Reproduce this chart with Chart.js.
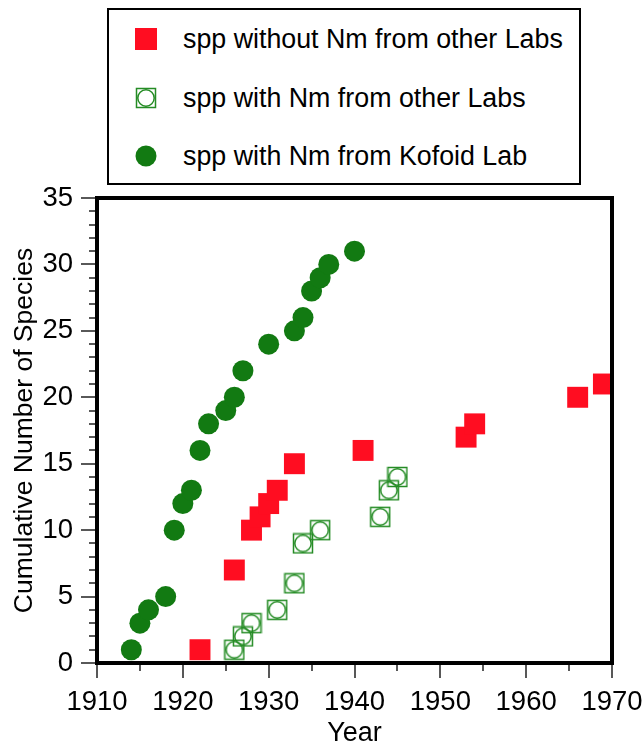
<!DOCTYPE html>
<html>
<head>
<meta charset="utf-8">
<script src="https://cdn.jsdelivr.net/npm/chart.js@4"></script>
<style>
  html, body { margin: 0; padding: 0; background: #fff; }
  #wrap { position: relative; width: 643px; height: 747px; }
  #chart { position: absolute; left: 0; top: 0; }
  #legend {
    position: absolute; left: 107px; top: 8px; width: 470px; height: 173px;
    border: 2px solid #000; background: #fff;
    font-family: "Liberation Sans", Arial, sans-serif; font-size: 26.8px; color: #000;
  }
  .item { position: absolute; left: 0; height: 30px; line-height: 30px; white-space: nowrap; }
  .item canvas { position: absolute; left: 26px; top: 4px; }
  .item span { position: absolute; left: 74px; top: 0; }
</style>
</head>
<body>
<div id="wrap">
  <canvas id="chart" width="643" height="747"></canvas>
  <div id="legend"></div>
</div>
<script>
// --- data ---
const noNmYears = [1922, 1926, 1928, 1929, 1930, 1931, 1933, 1941, 1953, 1954, 1966, 1969]
const noNmCounts = [1, 7, 10, 11, 12, 13, 15, 16, 17, 18, 20, 21]

const otherNmYears = [1926, 1927, 1928, 1931, 1933, 1934, 1936, 1943, 1944, 1945]
const otherNmCounts = [1, 2, 3, 4, 6, 9, 10, 11, 13, 14]

const kofoidYears = [1914, 1915, 1916, 1918, 1919, 1920, 1921, 1922, 1923, 1925, 1926, 1927, 1930, 1933, 1934, 1935, 1936, 1937, 1940]
const kofoidCounts = [1, 3, 4, 5, 10, 12, 13, 16, 18, 19, 20, 22, 24, 25, 26, 28, 29, 30, 31]

const seriesLabels = ['spp without Nm from other Labs', 'spp with Nm from other Labs', 'spp with Nm from Kofoid Lab']
const xTitle = 'Year'
const yTitle = 'Cumulative Number of Species'

const red = '#ff0d21'
const green = '#127a12'
const openGreen = '#258c25'
const fontFamily = '"Liberation Sans", Arial, sans-serif'

const toPoints = (xs, ys) => xs.map((x, i) => ({ x, y: ys[i] }))

// square outline with a circle inside, used for the "with Nm from other Labs" marker
function openMarker() {
  const c = document.createElement('canvas')
  c.width = 22; c.height = 22
  const g = c.getContext('2d')
  g.strokeStyle = openGreen
  g.lineWidth = 1.5
  g.strokeRect(1.5, 1.5, 19, 19)
  g.beginPath()
  g.arc(11, 11, 8.2, 0, Math.PI * 2)
  g.stroke()
  return c
}
const openStyle = openMarker()

// --- legend (html box at the top) ---
function drawLegendIcon(cv, kind) {
  const g = cv.getContext('2d')
  if (kind === 0) { g.fillStyle = red; g.fillRect(0, 0, 22, 22) }
  else if (kind === 1) { g.drawImage(openMarker(), 0, 0) }
  else { g.fillStyle = green; g.beginPath(); g.arc(11, 11, 10.5, 0, Math.PI * 2); g.fill() }
}
const legendEl = document.getElementById('legend')
const rowCenters = [29, 88, 146]
seriesLabels.forEach((txt, i) => {
  const row = document.createElement('div')
  row.className = 'item'
  row.style.top = (rowCenters[i] - 15) + 'px'
  const cv = document.createElement('canvas')
  cv.width = 22; cv.height = 22
  drawLegendIcon(cv, i)
  const sp = document.createElement('span')
  sp.textContent = txt
  row.appendChild(cv); row.appendChild(sp)
  legendEl.appendChild(row)
})

// frame + major/minor tick marks
const frameTicks = {
  id: 'frameTicks',
  afterDraw(chart) {
    const { ctx, chartArea: a, scales: { x, y } } = chart
    ctx.save()
    ctx.strokeStyle = '#222'
    ctx.lineWidth = 1.5
    ctx.beginPath()
    for (let v = y.min; v <= y.max; v++) {
      const py = Math.round(y.getPixelForValue(v))
      const len = v % 5 ? 8 : 16
      ctx.moveTo(a.left - len, py); ctx.lineTo(a.left, py)
    }
    for (let v = x.min; v <= x.max; v += 5) {
      const px = Math.round(x.getPixelForValue(v))
      const len = v % 10 ? 8 : 15
      ctx.moveTo(px, a.bottom); ctx.lineTo(px, a.bottom + len)
    }
    ctx.stroke()
    ctx.strokeStyle = '#000'
    ctx.lineWidth = 4
    ctx.strokeRect(a.left, a.top, a.right - a.left, a.bottom - a.top)
    ctx.restore()
  }
}

Chart.defaults.font.family = fontFamily
Chart.defaults.color = '#000'

new Chart(document.getElementById('chart'), {
  type: 'scatter',
  data: {
    datasets: [
      { label: seriesLabels[0], data: toPoints(noNmYears, noNmCounts), pointStyle: 'rect', pointRadius: 14.8, pointHoverRadius: 14.8, backgroundColor: red, borderWidth: 0 },
      { label: seriesLabels[1], data: toPoints(otherNmYears, otherNmCounts), pointStyle: openStyle, pointRadius: 11, pointHoverRadius: 11 },
      { label: seriesLabels[2], data: toPoints(kofoidYears, kofoidCounts), pointStyle: 'circle', pointRadius: 10.5, pointHoverRadius: 10.5, backgroundColor: green, borderWidth: 0 }
    ]
  },
  options: {
    responsive: false,
    animation: false,
    layout: { padding: { top: 198, right: 31, left: 0, bottom: 0 } },
    scales: {
      x: {
        type: 'linear', min: 1910, max: 1970,
        grid: { display: false, drawTicks: false },
        border: { display: false },
        ticks: { stepSize: 10, padding: 23, font: { size: 27.5 }, callback: v => String(v) },
        title: { display: true, text: xTitle, font: { size: 27, lineHeight: 1 }, padding: 0 },
        afterFit: s => { s.height = 84; s.paddingLeft = 0; s.paddingRight = 0 }
      },
      y: {
        min: 0, max: 35,
        grid: { display: false, drawTicks: false },
        border: { display: false },
        ticks: { stepSize: 5, padding: 24, font: { size: 27.5 } },
        title: { display: true, text: yTitle, font: { size: 26.5 }, padding: { top: 9, bottom: 0 } },
        afterFit: s => { s.width = 97; s.paddingTop = 0; s.paddingBottom = 0 }
      }
    },
    plugins: { legend: { display: false }, tooltip: { enabled: false } }
  },
  plugins: [frameTicks]
})
</script>
</body>
</html>
